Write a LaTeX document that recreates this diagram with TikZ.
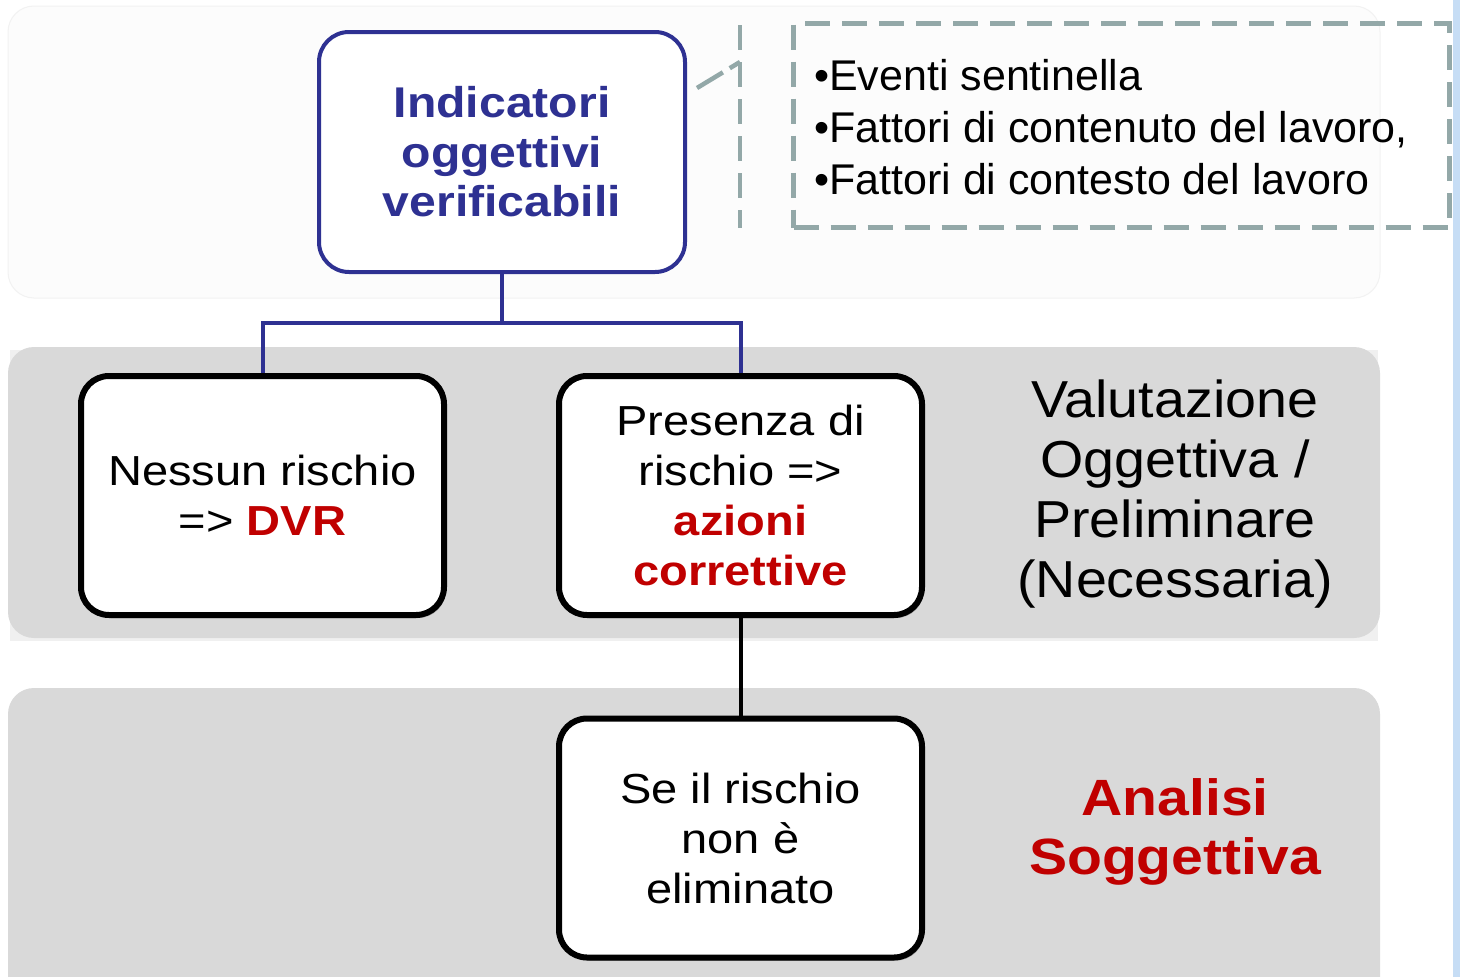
\documentclass[tikz,border=0pt]{standalone}
\usepackage{fontspec}
\setmainfont{Liberation Sans}
\newfontfamily\wideff{Liberation Sans}[FakeStretch=1.12]
\newfontfamily\midff{Liberation Sans}[FakeStretch=1.07]
\usetikzlibrary{shadows}
\definecolor{blueC}{HTML}{2E3192}
\definecolor{redC}{HTML}{C00000}
\definecolor{bandC}{HTML}{D9D9D9}
\definecolor{dashC}{HTML}{93A8A8}
\definecolor{stripC}{HTML}{C6DDF5}
\tikzset{
  band/.style={fill=bandC, draw=none, rounded corners=26pt},
  whitebox/.style={draw=black, line width=6pt, rounded corners=28pt, fill=white,
    minimum width=363pt, minimum height=239pt, align=center, inner sep=0pt,
    font=\wideff\fontsize{42}{50}\selectfont,
    drop shadow={shadow xshift=2pt, shadow yshift=-3pt, opacity=0.3, fill=black}},
  topbox/.style={draw=blueC, line width=4pt, rounded corners=30pt, fill=white,
    minimum width=366pt, minimum height=240pt, align=center, inner sep=0pt,
    text=blueC, font=\wideff\bfseries\fontsize{43}{49.5}\selectfont},
  blueconn/.style={draw=blueC, line width=4pt},
  blackconn/.style={draw=black, line width=4pt},
  dashline/.style={draw=dashC, line width=4.5pt, dash pattern=on 25pt off 12pt},
  sidelabel/.style={align=center, inner sep=0pt, font=\midff\fontsize{52}{60}\selectfont},
  sidered/.style={align=center, inner sep=0pt, text=redC, font=\wideff\bfseries\fontsize{51}{59}\selectfont}
}
\begin{document}
\begin{tikzpicture}[x=1pt,y=-1pt]
\useasboundingbox (0,0) rectangle (1460,977);
\fill[white] (0,0) rectangle (1460,977);
% right strip
\fill[stripC] (1453,0) rectangle (1460,977);
% bands
\filldraw[fill=white!99!black, draw=black!5, line width=1pt, rounded corners=26pt] (8,6) rectangle (1380,298);
\fill[black!6] (10,350) rectangle (1378,641);
\fill[band] (8,347) rectangle (1380,638);
\fill[band] (8,688) rectangle (1380,1010);

% top box
\node[topbox] (top) at (502,152) {Indicatori\\oggettivi\\verificabili};
% level boxes
\node[whitebox] (left) at (262.5,495.5) {Nessun rischio\\=> \textbf{\color{redC}DVR}};
\node[whitebox] (mid) at (740.5,495.5) {Presenza di\\rischio =>\\\textbf{\color{redC}azioni}\\\textbf{\color{redC}correttive}};
\node[whitebox] (bot) at (740.5,838) {Se il rischio\\non è\\eliminato};

% connectors
\draw[blueconn] (top.south) -- ++(0,49) -| (left.north);
\draw[blueconn] (top.south) -- ++(0,49) -| (mid.north);
\draw[blackconn] (mid.south) -- (bot.north);

% side labels
\node[sidelabel] (val) at (1175,494) {Valutazione\\Oggettiva /\\Preliminare\\(Necessaria)};
\node[sidered] (ana) at (1175,832) {Analisi\\Soggettiva};

% callout
\coordinate (barTop) at (740,25);
\coordinate (barBot) at (740,228);
\coordinate (lead) at (740,62);
\coordinate (leadEnd) at (697,88);
\draw[dashline] (barTop) -- (barBot);
\draw[dashline, dash pattern=on 12pt off 8pt on 40pt] (lead) -- (leadEnd);
\node[draw=dashC, line width=4.5pt, dash pattern=on 25pt off 12pt, minimum width=656pt, minimum height=204pt, inner sep=0pt] (callbox) at (1121.5,125.5) {};
\node[anchor=west, align=left, inner sep=0pt, font=\fontsize{43}{52}\selectfont] (calltext) at (814,127) {•Eventi sentinella\\•Fattori di contenuto del lavoro,\\•Fattori di contesto del lavoro};
\end{tikzpicture}
\end{document}
